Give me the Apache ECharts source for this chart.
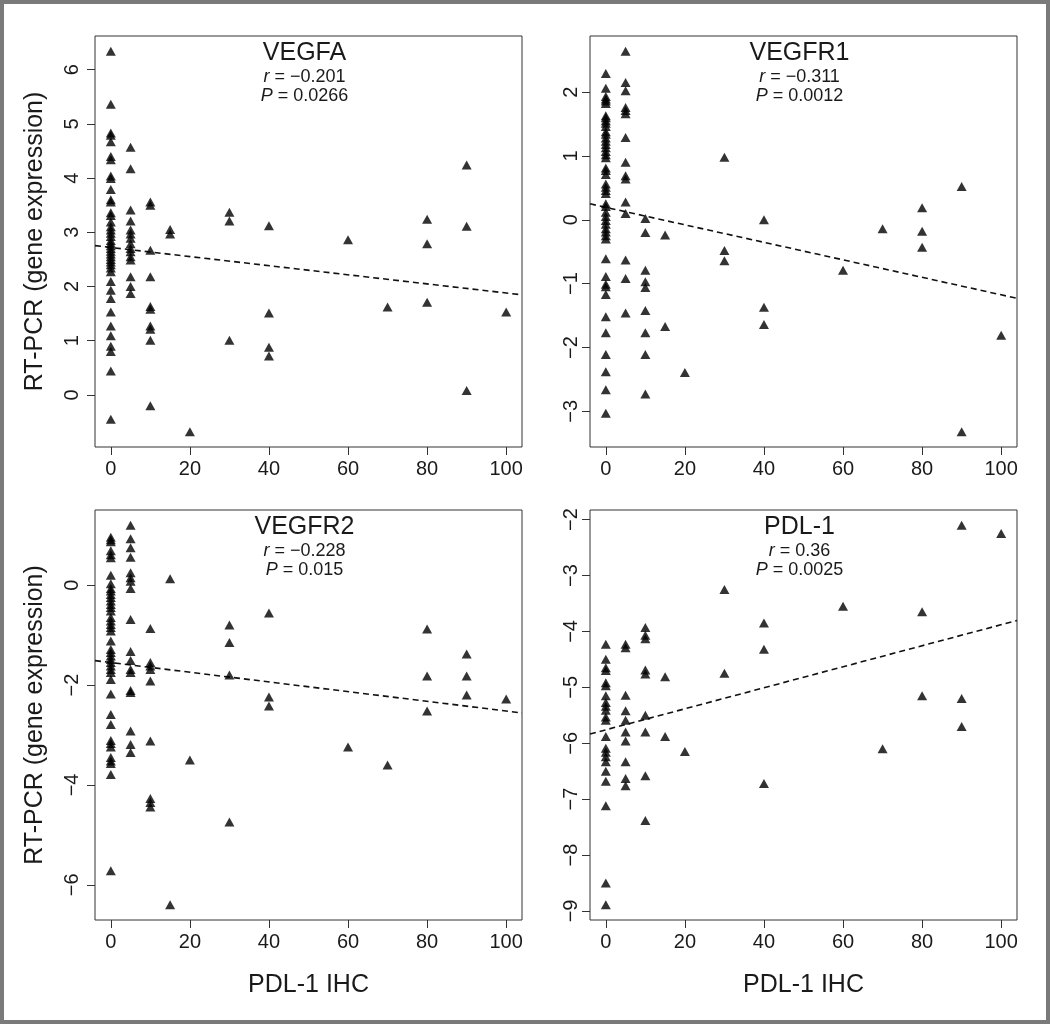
<!DOCTYPE html>
<html>
<head>
<meta charset="utf-8">
<script src="https://cdn.jsdelivr.net/npm/echarts@6/dist/echarts.min.js"></script>
<style>
html,body{margin:0;padding:0;background:#fff;}
#chart{width:1050px;height:1024px;}
</style>
</head>
<body>
<div id="chart"></div>
<script>
// ---------------- DATA ----------------
const ihcLevels = [0, 5, 10, 15, 20, 30, 40, 60, 70, 80, 90, 100];

const vegfaByLevel = [
  [6.34, 5.36, 4.83, 4.79, 4.67, 4.40, 4.34, 4.04, 3.99, 3.79, 3.60, 3.56, 3.36, 3.31, 3.19, 3.10, 3.04, 2.98, 2.92, 2.85, 2.80, 2.75, 2.70, 2.65, 2.60, 2.55, 2.50, 2.45, 2.40, 2.34, 2.27, 2.09, 1.93, 1.78, 1.53, 1.27, 1.09, 0.90, 0.80, 0.44, -0.45],
  [4.57, 4.17, 3.41, 3.21, 3.04, 2.97, 2.89, 2.79, 2.70, 2.64, 2.55, 2.49, 2.18, 2.00, 1.87],
  [3.56, 3.50, 2.67, 2.18, 1.63, 1.58, 1.27, 1.21, 1.01, -0.20],
  [3.05, 2.97],
  [-0.68],
  [3.37, 3.21, 1.01],
  [3.12, 1.51, 0.88, 0.72],
  [2.86],
  [1.62],
  [3.24, 2.79, 1.71],
  [4.24, 3.11, 0.08],
  [1.53]
];

const vegfr1ByLevel = [
  [2.29, 2.06, 1.93, 1.89, 1.86, 1.82, 1.63, 1.60, 1.55, 1.51, 1.46, 1.38, 1.34, 1.28, 1.23, 1.18, 1.13, 1.07, 1.02, 0.97, 0.81, 0.77, 0.71, 0.56, 0.51, 0.46, 0.41, 0.25, 0.21, 0.12, 0.05, -0.01, -0.07, -0.14, -0.19, -0.25, -0.30, -0.61, -0.89, -1.01, -1.05, -1.17, -1.52, -1.77, -2.11, -2.38, -2.66, -3.03],
  [2.64, 2.15, 2.02, 1.76, 1.71, 1.66, 1.29, 0.90, 0.69, 0.64, 0.28, 0.10, -0.63, -0.92, -1.46],
  [0.02, -0.20, -0.79, -0.97, -1.06, -1.42, -1.77, -2.11, -2.73],
  [-0.24, -1.67],
  [-2.39],
  [0.98, -0.48, -0.64],
  [0.00, -1.37, -1.64],
  [-0.79],
  [-0.14],
  [0.19, -0.18, -0.43],
  [0.52, -3.32],
  [-1.81]
];

const vegfr2ByLevel = [
  [0.96, 0.91, 0.87, 0.69, 0.61, 0.55, 0.20, 0.03, -0.07, -0.12, -0.19, -0.25, -0.32, -0.39, -0.45, -0.52, -0.65, -0.72, -0.79, -0.85, -0.92, -1.12, -1.29, -1.35, -1.42, -1.49, -1.55, -1.62, -1.69, -1.75, -1.89, -2.18, -2.59, -2.79, -3.11, -3.17, -3.24, -3.45, -3.52, -3.57, -3.79, -5.72],
  [1.20, 0.93, 0.75, 0.56, 0.25, 0.15, 0.08, -0.07, -0.69, -1.33, -1.51, -1.69, -1.75, -2.11, -2.15, -2.92, -3.19, -3.35],
  [-0.87, -1.55, -1.62, -1.69, -1.92, -3.12, -4.27, -4.35, -4.44],
  [0.13, -6.40],
  [-3.50],
  [-0.80, -1.15, -1.80, -4.74],
  [-0.56, -2.24, -2.42],
  [-3.24],
  [-3.60],
  [-0.88, -1.82, -2.52],
  [-1.38, -1.82, -2.20],
  [-2.28]
];

const pdl1ByLevel = [
  [-4.23, -4.50, -4.65, -4.70, -4.92, -4.97, -5.15, -5.27, -5.34, -5.41, -5.53, -5.59, -5.88, -6.09, -6.16, -6.24, -6.33, -6.50, -6.68, -7.12, -8.50, -8.89],
  [-4.23, -4.29, -5.14, -5.42, -5.59, -5.80, -5.96, -6.33, -6.63, -6.76],
  [-3.93, -4.07, -4.13, -4.69, -4.76, -5.50, -5.80, -6.58, -7.38],
  [-4.81, -5.88],
  [-6.15],
  [-3.25, -4.75],
  [-3.85, -4.32, -6.72],
  [-3.55],
  [-6.10],
  [-3.65, -5.15],
  [-2.10, -5.20, -5.70],
  [-2.25]
];

const panelTitles = ['VEGFA', 'VEGFR1', 'VEGFR2', 'PDL-1'];
const rTexts = ['\u22120.201', '\u22120.311', '\u22120.228', '0.36'];
const pTexts = ['0.0266', '0.0012', '0.015', '0.0025'];

// dashed fitted lines: value at x = 0 and slope per IHC unit
const fitIntercepts = [2.72, 0.195, -1.55, -5.76];
const fitSlopes = [-0.0084, -0.0137, -0.0097, 0.0188];

const xTicks = [0, 20, 40, 60, 80, 100];
const vegfaTicks = [0, 1, 2, 3, 4, 5, 6];
const vegfr1Ticks = [-3, -2, -1, 0, 1, 2];
const vegfr2Ticks = [-6, -4, -2, 0];
const pdl1Ticks = [-9, -8, -7, -6, -5, -4, -3, -2];

const yAxisTitle = 'RT-PCR (gene expression)';
const xAxisTitle = 'PDL-1 IHC';

// ---------------- LAYOUT ----------------
const FONT = '"Liberation Sans", Arial, Helvetica, sans-serif';
const INK = '#1a1a1a';
const grids = [
  {left: 95, top: 36, width: 427, height: 411},
  {left: 590, top: 36, width: 427, height: 411},
  {left: 95, top: 510, width: 427, height: 410},
  {left: 590, top: 510, width: 427, height: 410}
];
const labelMargins = [13, 9, 13, 9];
const panelData = [vegfaByLevel, vegfr1ByLevel, vegfr2ByLevel, pdl1ByLevel];
const panelTicks = [vegfaTicks, vegfr1Ticks, vegfr2Ticks, pdl1Ticks];

function toPairs(byLevel) {
  const out = [];
  byLevel.forEach((vals, i) => vals.forEach(v => out.push([ihcLevels[i], v])));
  return out;
}
function rRange(vals) {
  const mn = Math.min.apply(null, vals), mx = Math.max.apply(null, vals);
  const d = (mx - mn) * 0.04;
  return [mn - d, mx + d];
}
const minus = v => String(v).replace('-', '\u2212');

const xRange = rRange(ihcLevels);
const option = {
  backgroundColor: '#fff',
  animation: false,
  grid: grids.map(g => Object.assign({show: true, borderColor: '#333', borderWidth: 1, backgroundColor: 'transparent', containLabel: false}, g)),
  xAxis: grids.map((g, i) => ({
    type: 'value', gridIndex: i, min: xRange[0], max: xRange[1], position: 'bottom',
    axisLine: {show: false, onZero: false}, splitLine: {show: false},
    axisTick: {show: true, length: 8, lineStyle: {color: '#333', width: 1}, customValues: xTicks},
    axisLabel: {customValues: xTicks, fontSize: 20, color: INK, fontFamily: FONT, margin: 12}
  })),
  yAxis: grids.map((g, i) => {
    const vals = [].concat.apply([], panelData[i]);
    const r = rRange(vals);
    return {
      type: 'value', gridIndex: i, min: r[0], max: r[1], position: 'left',
      axisLine: {show: false, onZero: false}, splitLine: {show: false},
      axisTick: {show: true, length: 8, lineStyle: {color: '#333', width: 1}, customValues: panelTicks[i]},
      axisLabel: {customValues: panelTicks[i], rotate: 90, fontSize: 20, color: INK, fontFamily: FONT,
        margin: labelMargins[i], formatter: v => minus(v)}
    };
  }),
  series: [],
  graphic: []
};

panelData.forEach((byLevel, i) => {
  option.series.push({
    type: 'line', xAxisIndex: i, yAxisIndex: i, silent: true, showSymbol: false, symbol: 'none',
    data: [xRange[0], xRange[1]].map(x => [x, fitIntercepts[i] + fitSlopes[i] * x]),
    lineStyle: {color: '#111', width: 1.6, type: [6, 4]}, z: 1
  });
  option.series.push({
    type: 'scatter', xAxisIndex: i, yAxisIndex: i, symbol: 'triangle', symbolSize: [10, 9],
    itemStyle: {color: '#000'}, data: toPairs(byLevel), z: 2
  });
});

// titles and statistics
grids.forEach((g, i) => {
  const cx = g.left + g.width / 2 - 4;
  option.graphic.push({type: 'text', x: cx, y: g.top + 17, style: {text: panelTitles[i], fill: INK,
    font: '25px ' + FONT, textAlign: 'center', textVerticalAlign: 'middle'}});
  option.graphic.push({type: 'text', x: cx, y: g.top + 41, style: {text: '{i|r} = ' + rTexts[i], fill: INK,
    font: '18px ' + FONT, textAlign: 'center', textVerticalAlign: 'middle',
    rich: {i: {fontStyle: 'italic', fontSize: 18, fontFamily: FONT, fill: INK}}}});
  option.graphic.push({type: 'text', x: cx, y: g.top + 60, style: {text: '{i|P} = ' + pTexts[i], fill: INK,
    font: '18px ' + FONT, textAlign: 'center', textVerticalAlign: 'middle',
    rich: {i: {fontStyle: 'italic', fontSize: 18, fontFamily: FONT, fill: INK}}}});
});
// axis titles
[0, 2].forEach(i => {
  const g = grids[i];
  option.graphic.push({type: 'text', x: 35, y: g.top + g.height / 2, rotation: Math.PI / 2,
    style: {text: yAxisTitle, fill: INK, font: '25px ' + FONT, textAlign: 'center', textVerticalAlign: 'middle'}});
});
[2, 3].forEach(i => {
  const g = grids[i];
  option.graphic.push({type: 'text', x: g.left + g.width / 2, y: 985,
    style: {text: xAxisTitle, fill: INK, font: '25px ' + FONT, textAlign: 'center', textVerticalAlign: 'middle'}});
});
// outer frame
option.graphic.push({type: 'rect', shape: {x: 2, y: 2, width: 1046, height: 1020}, silent: true,
  style: {fill: 'none', stroke: '#7a7a7a', lineWidth: 4}, z: 100});

const chart = echarts.init(document.getElementById('chart'), null, {renderer: 'canvas'});
chart.setOption(option);
</script>
</body>
</html>
